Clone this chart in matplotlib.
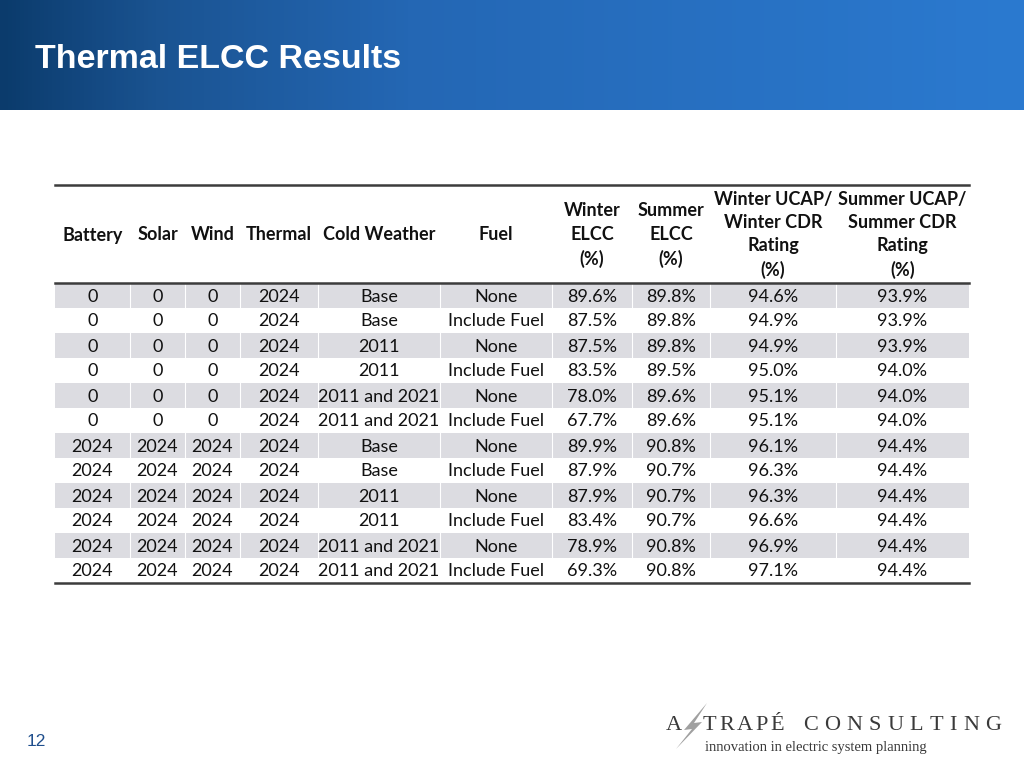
import numpy as np
import matplotlib.pyplot as plt
from matplotlib.colors import LinearSegmentedColormap
from matplotlib.patches import Rectangle, Polygon

battery = ["0"] * 6 + ["2024"] * 6
solar = ["0"] * 6 + ["2024"] * 6
wind = ["0"] * 6 + ["2024"] * 6
thermal = ["2024"] * 12
cold_weather = ["Base", "Base", "2011", "2011", "2011 and 2021", "2011 and 2021"] * 2
fuel = ["None", "Include Fuel"] * 6
winter_elcc = ["89.6%", "87.5%", "87.5%", "83.5%", "78.0%", "67.7%",
               "89.9%", "87.9%", "87.9%", "83.4%", "78.9%", "69.3%"]
summer_elcc = ["89.8%", "89.8%", "89.8%", "89.5%", "89.6%", "89.6%",
               "90.8%", "90.7%", "90.7%", "90.7%", "90.8%", "90.8%"]
winter_ratio = ["94.6%", "94.9%", "94.9%", "95.0%", "95.1%", "95.1%",
                "96.1%", "96.3%", "96.3%", "96.6%", "96.9%", "97.1%"]
summer_ratio = ["93.9%", "93.9%", "93.9%", "94.0%", "94.0%", "94.0%",
                "94.4%", "94.4%", "94.4%", "94.4%", "94.4%", "94.4%"]

headers = ["Battery", "Solar", "Wind", "Thermal", "Cold Weather", "Fuel",
           "Winter\nELCC\n(%)", "Summer\nELCC\n(%)",
           "Winter UCAP/\nWinter CDR\nRating\n(%)",
           "Summer UCAP/\nSummer CDR\nRating\n(%)"]

columns = [battery, solar, wind, thermal, cold_weather, fuel,
           winter_elcc, summer_elcc, winter_ratio, summer_ratio]

col_edges = [55, 130, 185, 240, 318, 440, 552, 632, 710, 836, 969]

fig = plt.figure(figsize=(10.24, 7.68), dpi=100)
ax = fig.add_axes([0, 0, 1, 1])
ax.set_xlim(0, 1024)
ax.set_ylim(768, 0)
ax.axis("off")

# header banner gradient
cmap = LinearSegmentedColormap.from_list(
    "banner", [(0, "#0B3B6C"), (0.15, "#1A5391"), (0.4, "#2467B4"), (1.0, "#2B7AD0")])
grad = np.linspace(0, 1, 512).reshape(1, -1)
ax.imshow(grad, extent=[0, 1024, 110, 0], aspect="auto", cmap=cmap, zorder=0)
ax.text(35, 59, "Thermal ELCC Results", color="white", fontsize=24.5,
        fontweight="bold", family="Liberation Sans", va="center", ha="left")

font = "Lato"
row_top = 283
row_h = 25
n_rows = len(battery)

# shaded rows
for i in range(n_rows):
    if i % 2 == 0:
        ax.add_patch(Rectangle((col_edges[0], row_top + i * row_h), col_edges[-1] - col_edges[0],
                               row_h, facecolor="#DCDCE1", edgecolor="none", zorder=1))
for x in col_edges[1:-1]:
    ax.plot([x, x], [row_top, row_top + n_rows * row_h], color="white", lw=0.8, zorder=2)

# rules
ax.plot([col_edges[0], col_edges[-1]], [185, 185], color="#3C3C3C", lw=1.8, zorder=3)
ax.plot([col_edges[0], col_edges[-1]], [row_top, row_top], color="#3C3C3C", lw=1.8, zorder=3)
ax.plot([col_edges[0], col_edges[-1]], [row_top + n_rows * row_h] * 2, color="#3C3C3C", lw=1.8, zorder=3)

# headers
for j, h in enumerate(headers):
    cx = (col_edges[j] + col_edges[j + 1]) / 2
    ax.text(cx, 235, h, ha="center", va="center", fontsize=13, fontweight="bold",
            family=font, color="#111111", linespacing=1.45, zorder=4)

# body
for j, col in enumerate(columns):
    cx = (col_edges[j] + col_edges[j + 1]) / 2
    for i, v in enumerate(col):
        ax.text(cx, row_top + i * row_h + row_h / 2 + 1, v, ha="center", va="center",
                fontsize=13, family=font, color="#111111", zorder=4)

# logo
renderer = fig.canvas.get_renderer()


def tracked(x, y, s, size, track):
    for ch in s:
        t = ax.text(x, y, ch, fontsize=size, family="Liberation Serif",
                    color="#3A3A3A", va="center", ha="left", zorder=5)
        x += t.get_window_extent(renderer).width + track
    return x


ax.add_patch(Polygon([[707, 703], [684, 730], [692, 729], [676, 749], [702, 722], [694, 723]],
                     closed=True, facecolor="#A0A0A0", edgecolor="none", zorder=4))
tracked(666, 726, "A", 16, 0)
tracked(703, 726, "TRAPÉ", 16, 2.5)
tracked(803, 726, "CONSULTING", 16, 6.3)
ax.text(705, 748, "innovation in electric system planning", fontsize=10.5,
        family="Liberation Serif", color="#3A3A3A", va="center", ha="left")

ax.text(27, 741, "12", fontsize=12.5, family="Liberation Sans", color="#1F4E8C",
        va="center", ha="left")

fig.savefig("out.png", dpi=100)
